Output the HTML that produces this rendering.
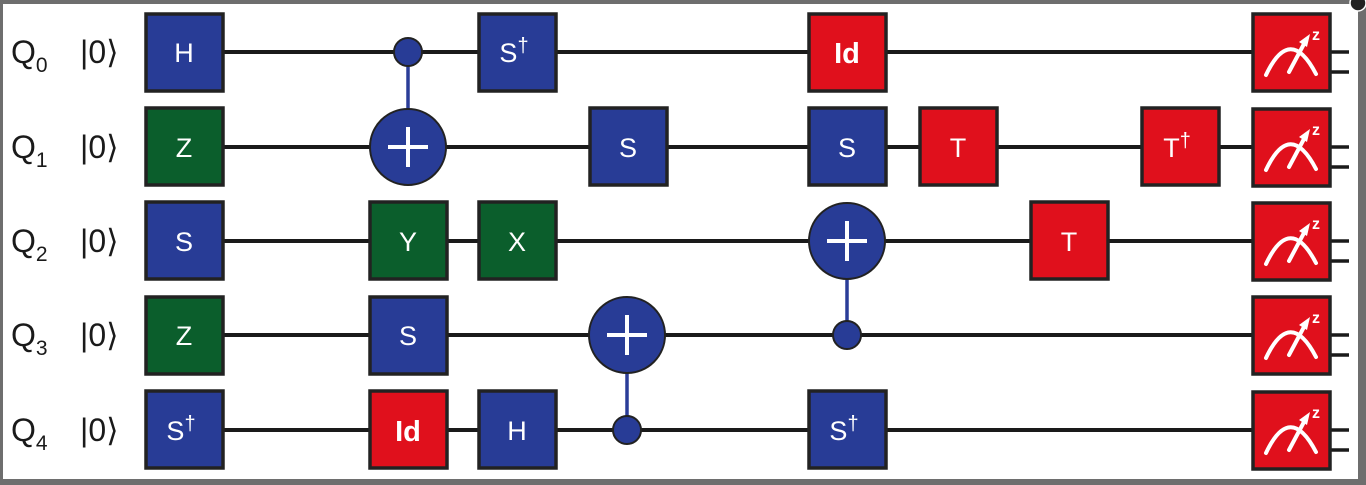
<!DOCTYPE html>
<html><head><meta charset="utf-8"><style>
html,body{margin:0;padding:0;background:#6e6e6e;}
svg{display:block;}
</style></head><body>
<svg width="1366" height="485" xmlns="http://www.w3.org/2000/svg" font-family="Liberation Sans, sans-serif">
<rect x="0" y="0" width="1366" height="485" fill="#6e6e6e"/>
<rect x="3" y="4" width="1355" height="475" fill="#ffffff"/>
<defs>
<g id="meas">
<rect x="-38" y="-38" width="77" height="77" fill="#e0101c" stroke="#222" stroke-width="3.5"/>
<path d="M-25 23 Q-1 -28 25 22" fill="none" stroke="#fff" stroke-width="4" stroke-linecap="round"/>
<line x1="-2" y1="20" x2="14" y2="-10" stroke="#fff" stroke-width="4" stroke-linecap="round"/>
<polygon points="19,-18 8,-10 16,-5" fill="#fff"/>
<text x="21" y="-12" font-size="16" font-weight="bold" fill="#fff">z</text>
</g>
</defs>
<g stroke="#1a1a1a" stroke-width="4">
<line x1="223" y1="52" x2="1253" y2="52"/>
<line x1="223" y1="147" x2="1253" y2="147"/>
<line x1="223" y1="241" x2="1253" y2="241"/>
<line x1="223" y1="335" x2="1253" y2="335"/>
<line x1="223" y1="430" x2="1253" y2="430"/>
<g stroke-width="3.5">
<line x1="1330" y1="52" x2="1349" y2="52"/><line x1="1330" y1="72" x2="1349" y2="72"/>
<line x1="1330" y1="147" x2="1349" y2="147"/><line x1="1330" y1="167" x2="1349" y2="167"/>
<line x1="1330" y1="241" x2="1349" y2="241"/><line x1="1330" y1="261" x2="1349" y2="261"/>
<line x1="1330" y1="335" x2="1349" y2="335"/><line x1="1330" y1="355" x2="1349" y2="355"/>
<line x1="1330" y1="430" x2="1349" y2="430"/><line x1="1330" y1="450" x2="1349" y2="450"/>
</g>
</g>
<g font-size="32" fill="#1a1a1a">
<text x="11" y="63">Q<tspan font-size="21" dy="9">0</tspan></text>
<text x="11" y="158">Q<tspan font-size="21" dy="9">1</tspan></text>
<text x="11" y="252">Q<tspan font-size="21" dy="9">2</tspan></text>
<text x="11" y="346">Q<tspan font-size="21" dy="9">3</tspan></text>
<text x="11" y="441">Q<tspan font-size="21" dy="9">4</tspan></text>
<text x="80" y="63">|0⟩</text>
<text x="80" y="158">|0⟩</text>
<text x="80" y="252">|0⟩</text>
<text x="80" y="346">|0⟩</text>
<text x="80" y="441">|0⟩</text>
</g>
<g stroke="#2b3d98" stroke-width="3.5">
<line x1="408" y1="52" x2="408" y2="147"/>
<line x1="627" y1="335" x2="627" y2="430"/>
<line x1="847" y1="241" x2="847" y2="335"/>
</g>
<g stroke="#222" stroke-width="2" fill="#283c96">
<circle cx="408" cy="52" r="14"/>
<circle cx="627" cy="430" r="14"/>
<circle cx="847" cy="335" r="14"/>
<circle cx="408" cy="147" r="38"/>
<circle cx="627" cy="335" r="38"/>
<circle cx="847" cy="241" r="38"/>
</g>
<g stroke="#fff" stroke-width="4">
<line x1="388" y1="147" x2="428" y2="147"/><line x1="408" y1="127" x2="408" y2="167"/>
<line x1="607" y1="335" x2="647" y2="335"/><line x1="627" y1="315" x2="627" y2="355"/>
<line x1="827" y1="241" x2="867" y2="241"/><line x1="847" y1="221" x2="847" y2="261"/>
</g>
<g stroke="#222" stroke-width="3.5">
<rect x="146" y="14" width="77" height="77" fill="#283c96"/>
<rect x="479" y="14" width="77" height="77" fill="#283c96"/>
<rect x="146" y="202" width="77" height="77" fill="#283c96"/>
<rect x="146" y="391" width="77" height="77" fill="#283c96"/>
<rect x="590" y="108" width="77" height="77" fill="#283c96"/>
<rect x="809" y="108" width="77" height="77" fill="#283c96"/>
<rect x="370" y="297" width="77" height="77" fill="#283c96"/>
<rect x="479" y="391" width="77" height="77" fill="#283c96"/>
<rect x="809" y="391" width="77" height="77" fill="#283c96"/>
<rect x="146" y="108" width="77" height="77" fill="#0b5e2c"/>
<rect x="146" y="297" width="77" height="77" fill="#0b5e2c"/>
<rect x="370" y="202" width="77" height="77" fill="#0b5e2c"/>
<rect x="479" y="202" width="77" height="77" fill="#0b5e2c"/>
<rect x="809" y="14" width="77" height="77" fill="#e0101c"/>
<rect x="370" y="391" width="77" height="77" fill="#e0101c"/>
<rect x="920" y="108" width="77" height="77" fill="#e0101c"/>
<rect x="1142" y="108" width="77" height="77" fill="#e0101c"/>
<rect x="1031" y="202" width="77" height="77" fill="#e0101c"/>
</g>
<g fill="#fff" font-size="27" text-anchor="middle">
<text x="184" y="62">H</text>
<text x="184" y="157">Z</text>
<text x="184" y="251">S</text>
<text x="184" y="345">Z</text>
<text x="181" y="440">S<tspan font-size="20" dy="-10">†</tspan></text>
<text x="514" y="62">S<tspan font-size="20" dy="-10">†</tspan></text>
<text x="408" y="251">Y</text>
<text x="517" y="251">X</text>
<text x="408" y="345">S</text>
<text x="517" y="440">H</text>
<text x="628" y="157">S</text>
<text x="847" y="157">S</text>
<text x="844" y="440">S<tspan font-size="20" dy="-10">†</tspan></text>
<text x="958" y="157">T</text>
<text x="1069" y="251">T</text>
<text x="1177" y="157">T<tspan font-size="20" dy="-10">†</tspan></text>
<text x="847" y="63" font-weight="bold" font-size="29">Id</text>
<text x="408" y="441" font-weight="bold" font-size="29">Id</text>
</g>
<use href="#meas" x="1291" y="52"/>
<use href="#meas" x="1291" y="147"/>
<use href="#meas" x="1291" y="241"/>
<use href="#meas" x="1291" y="335"/>
<use href="#meas" x="1291" y="430"/>
<circle cx="1358" cy="3" r="8" fill="#222" stroke="#fff" stroke-width="1.5"/>
</svg>
</body></html>
